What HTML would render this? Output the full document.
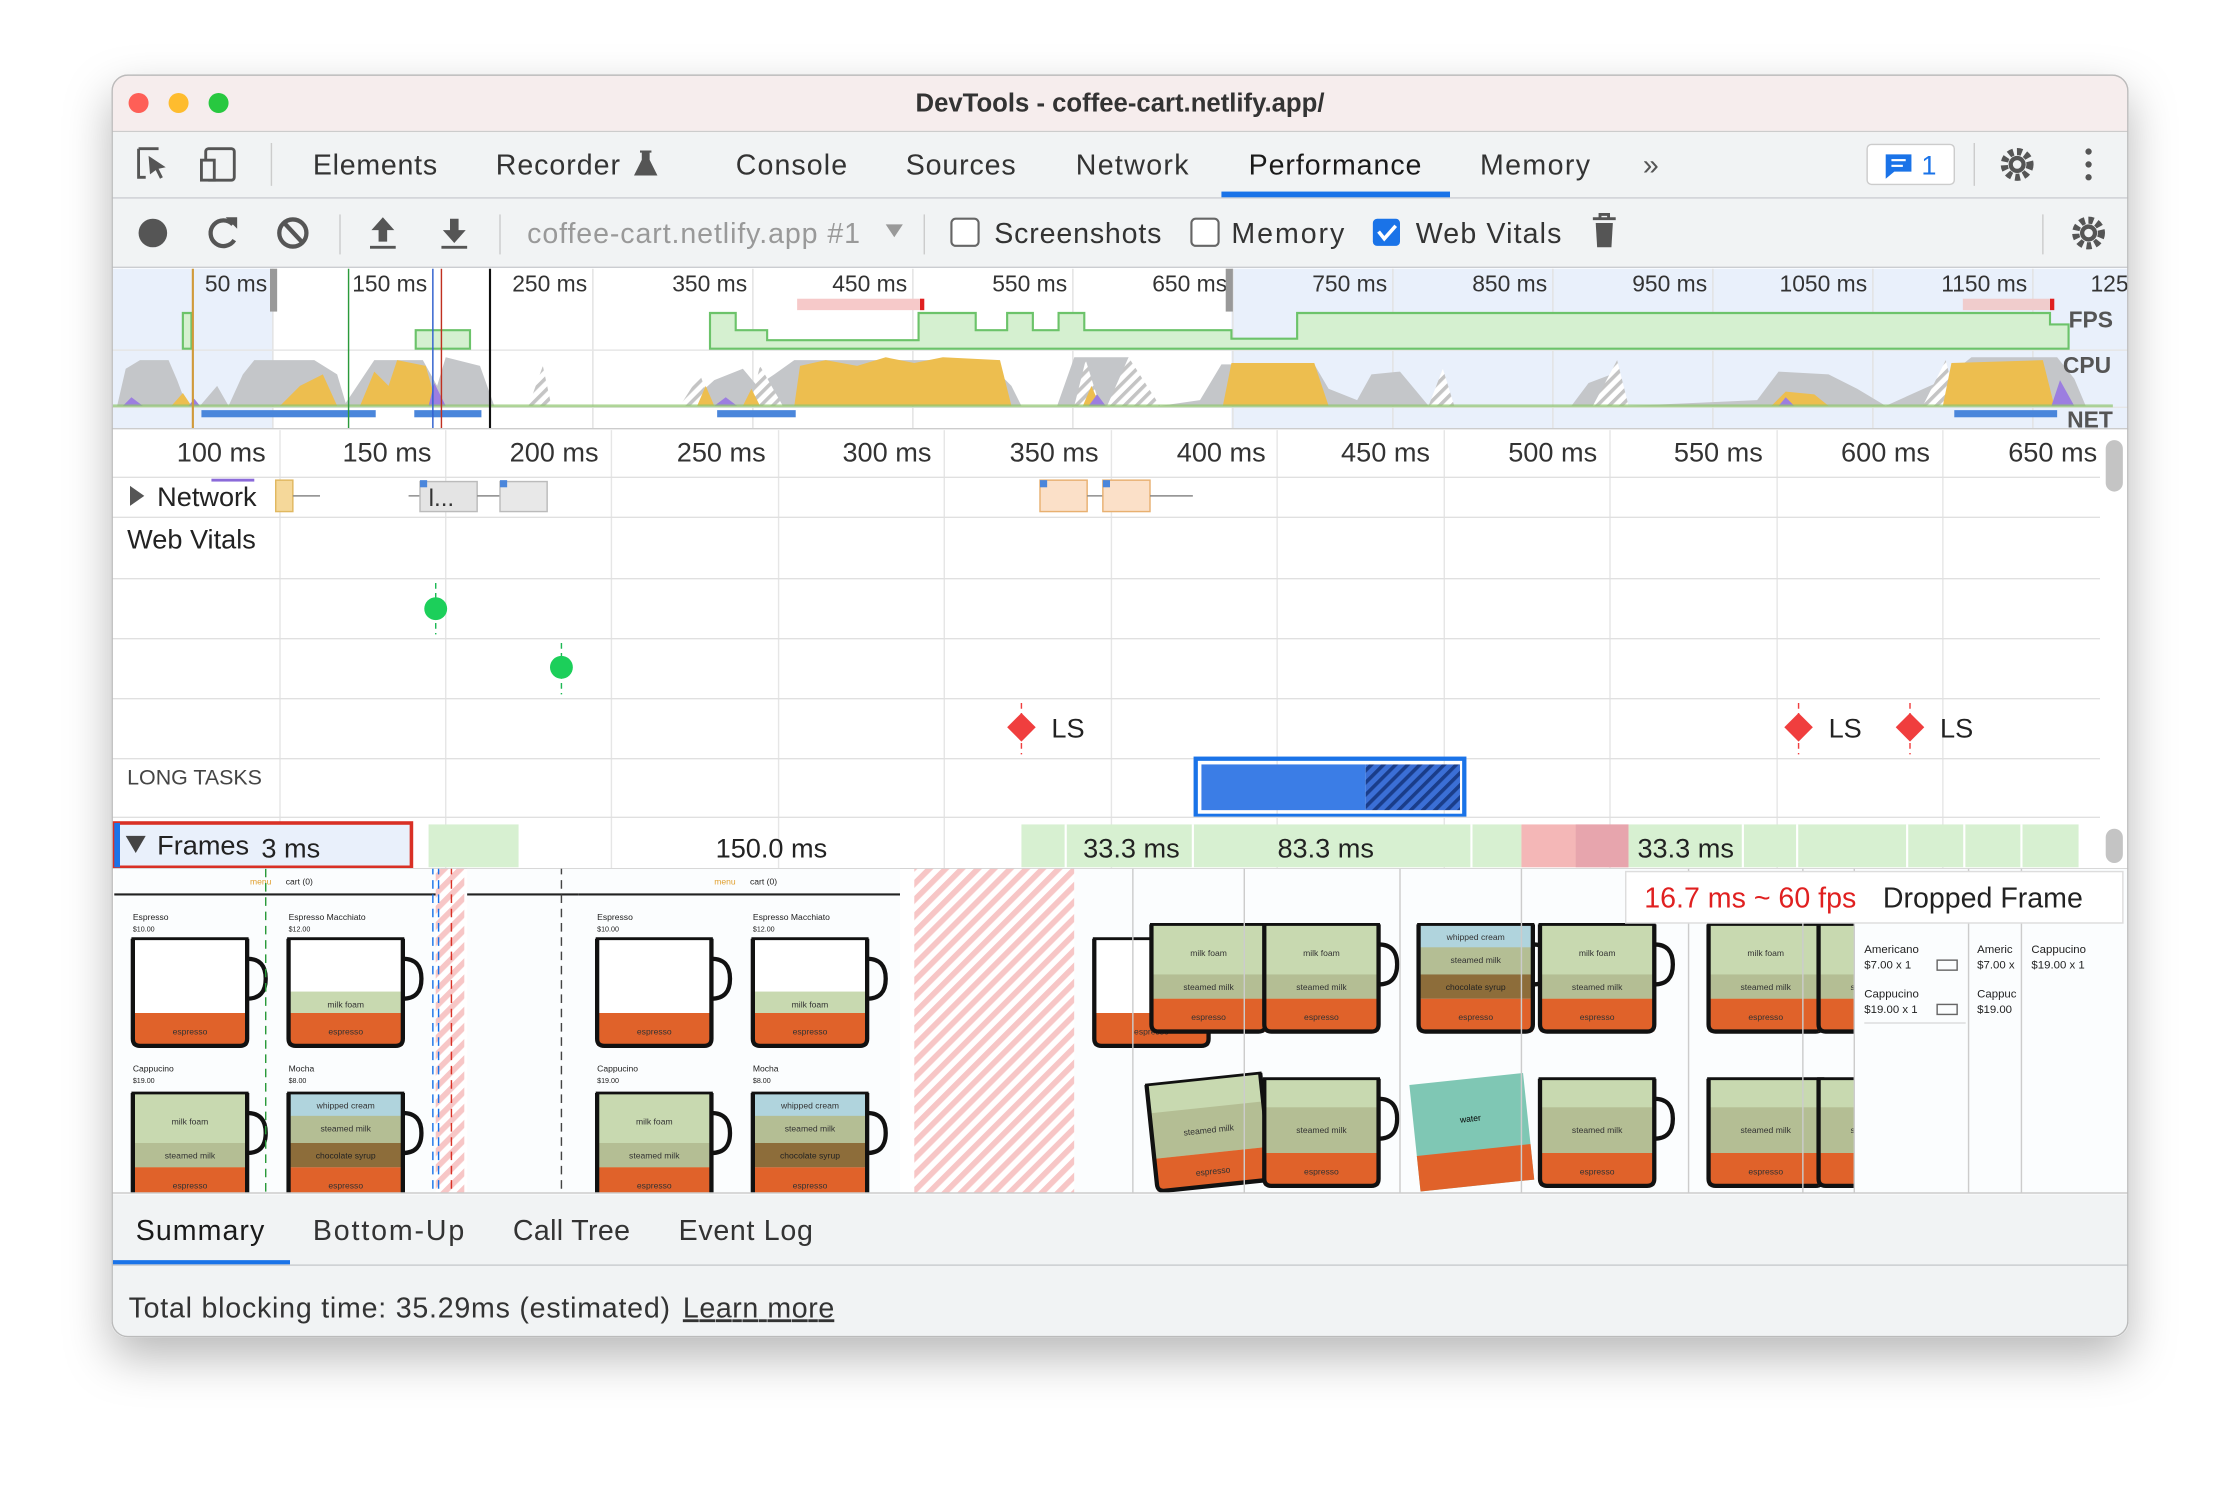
<!DOCTYPE html>
<html><head><meta charset="utf-8"><style>
html,body{margin:0;padding:0;background:#fff;width:2240px;height:1486px;overflow:hidden}
svg{display:block}
text{font-family:"Liberation Sans",sans-serif}
</style></head><body>
<svg width="2240" height="1486" viewBox="0 0 1568 1040" xmlns="http://www.w3.org/2000/svg">
<defs>
<filter id="sh" x="-10%" y="-10%" width="120%" height="130%"><feDropShadow dx="0" dy="14" stdDeviation="16" flood-color="#000" flood-opacity="0.28"/></filter>
<pattern id="hatchR" width="8" height="8" patternUnits="userSpaceOnUse" patternTransform="rotate(45)"><rect width="8" height="8" fill="#fff"/><rect width="4" height="8" fill="#f7c6c6"/></pattern>
<pattern id="hatchG" width="6" height="6" patternUnits="userSpaceOnUse" patternTransform="rotate(45)"><rect width="6" height="6" fill="#fff"/><rect width="2.5" height="6" fill="#c4c4c4"/></pattern>
<pattern id="hatchB" width="6" height="6" patternUnits="userSpaceOnUse" patternTransform="rotate(45)"><rect width="6" height="6" fill="#3b6fd6"/><rect width="2.5" height="6" fill="#1a3d8a"/></pattern>
<clipPath id="film"><rect x="79" y="608" width="1411" height="227"/></clipPath>
<clipPath id="win"><rect x="78" y="52" width="1412" height="884" rx="11"/></clipPath>
<g id="cupE"><rect x="0" y="0" width="80" height="75" rx="4" fill="#fff"/><rect x="0" y="52" width="80" height="23" fill="#e0622a"/><text x="40" y="67" font-size="6" text-anchor="middle" fill="#333">espresso</text><path d="M0 0 V70 Q0 75 5 75 H75 Q80 75 80 70 V0" fill="none" stroke="#111" stroke-width="3"/><path d="M80 14 Q93 14 93 28 Q93 42 80 42" fill="none" stroke="#111" stroke-width="3"/><line x1="-1" y1="0" x2="81" y2="0" stroke="#111" stroke-width="2"/></g>
<g id="cupM"><rect x="0" y="0" width="80" height="75" rx="4" fill="#fff"/><rect x="0" y="37" width="80" height="15" fill="#c8d9b0"/><text x="40" y="48" font-size="6" text-anchor="middle" fill="#333">milk foam</text><rect x="0" y="52" width="80" height="23" fill="#e0622a"/><text x="40" y="67" font-size="6" text-anchor="middle" fill="#333">espresso</text><path d="M0 0 V70 Q0 75 5 75 H75 Q80 75 80 70 V0" fill="none" stroke="#111" stroke-width="3"/><path d="M80 14 Q93 14 93 28 Q93 42 80 42" fill="none" stroke="#111" stroke-width="3"/><line x1="-1" y1="0" x2="81" y2="0" stroke="#111" stroke-width="2"/></g>
<g id="cupC"><rect x="0" y="0" width="80" height="75" rx="4" fill="#c8d9b0"/><text x="40" y="22" font-size="6" text-anchor="middle" fill="#333">milk foam</text><rect x="0" y="35" width="80" height="17" fill="#b4be94"/><text x="40" y="46" font-size="6" text-anchor="middle" fill="#333">steamed milk</text><rect x="0" y="52" width="80" height="23" fill="#e0622a"/><text x="40" y="67" font-size="6" text-anchor="middle" fill="#333">espresso</text><path d="M0 0 V70 Q0 75 5 75 H75 Q80 75 80 70 V0" fill="none" stroke="#111" stroke-width="3"/><path d="M80 14 Q93 14 93 28 Q93 42 80 42" fill="none" stroke="#111" stroke-width="3"/><line x1="-1" y1="0" x2="81" y2="0" stroke="#111" stroke-width="2"/></g>
<g id="cupMo"><rect x="0" y="0" width="80" height="75" rx="4" fill="#b0d4dd"/><text x="40" y="11" font-size="6" text-anchor="middle" fill="#333">whipped cream</text><rect x="0" y="16" width="80" height="19" fill="#b4be94"/><text x="40" y="27" font-size="6" text-anchor="middle" fill="#333">steamed milk</text><rect x="0" y="35" width="80" height="17" fill="#8d6d3a"/><text x="40" y="46" font-size="6" text-anchor="middle" fill="#222">chocolate syrup</text><rect x="0" y="52" width="80" height="23" fill="#e0622a"/><text x="40" y="67" font-size="6" text-anchor="middle" fill="#333">espresso</text><path d="M0 0 V70 Q0 75 5 75 H75 Q80 75 80 70 V0" fill="none" stroke="#111" stroke-width="3"/><path d="M80 14 Q93 14 93 28 Q93 42 80 42" fill="none" stroke="#111" stroke-width="3"/><line x1="-1" y1="0" x2="81" y2="0" stroke="#111" stroke-width="2"/></g>
<g id="cupF"><rect x="0" y="0" width="80" height="75" rx="4" fill="#c8d9b0"/><rect x="0" y="20" width="80" height="32" fill="#b4be94"/><text x="40" y="38" font-size="6" text-anchor="middle" fill="#333">steamed milk</text><rect x="0" y="52" width="80" height="23" fill="#e0622a"/><text x="40" y="67" font-size="6" text-anchor="middle" fill="#333">espresso</text><path d="M0 0 V70 Q0 75 5 75 H75 Q80 75 80 70 V0" fill="none" stroke="#111" stroke-width="3"/><path d="M80 14 Q93 14 93 28 Q93 42 80 42" fill="none" stroke="#111" stroke-width="3"/><line x1="-1" y1="0" x2="81" y2="0" stroke="#111" stroke-width="2"/></g>
<g id="panel">
<rect x="0" y="0" width="225" height="227" fill="#fbfdfe"/>
<text x="95" y="11" font-size="6" fill="#e0a030" font-family="Liberation Serif">menu</text>
<text x="120" y="11" font-size="6" fill="#222" font-family="Liberation Serif">cart (0)</text>
<line x1="0" y1="18" x2="225" y2="18" stroke="#222" stroke-width="1.5"/>
<text x="13" y="36" font-size="6" fill="#222" font-family="Liberation Serif">Espresso</text><text x="13" y="44" font-size="5" fill="#222">$10.00</text>
<text x="122" y="36" font-size="6" fill="#222" font-family="Liberation Serif">Espresso Macchiato</text><text x="122" y="44" font-size="5" fill="#222">$12.00</text>
<use href="#cupE" x="13" y="49"/><use href="#cupM" x="122" y="49"/>
<text x="13" y="142" font-size="6" fill="#222" font-family="Liberation Serif">Cappucino</text><text x="13" y="150" font-size="5" fill="#222">$19.00</text>
<text x="122" y="142" font-size="6" fill="#222" font-family="Liberation Serif">Mocha</text><text x="122" y="150" font-size="5" fill="#222">$8.00</text>
<use href="#cupC" x="13" y="157"/><use href="#cupMo" x="122" y="157"/>
</g>
</defs>

<rect x="78" y="52" width="1412" height="884" rx="11" fill="#fff" filter="url(#sh)"/>
<g clip-path="url(#win)">
<rect x="78" y="52" width="1412" height="40" fill="#f6eded"/>
<circle cx="97" cy="72" r="7" fill="#fe5f57"/><circle cx="125" cy="72" r="7" fill="#febc2e"/><circle cx="153" cy="72" r="7" fill="#28c840"/>
<text x="784" y="78" font-size="18" font-weight="bold" text-anchor="middle" fill="#333">DevTools - coffee-cart.netlify.app/</text>
<line x1="78" y1="92" x2="1490" y2="92" stroke="#ccc"/>
<rect x="78" y="93" width="1412" height="46" fill="#f1f3f4"/>
<line x1="78" y1="138.5" x2="1490" y2="138.5" stroke="#cbcdd1"/>
<path d="M97 104 h14 M97 104 v20 h5" stroke="#555" stroke-width="2" fill="none"/><path d="M104 109 l12 8 -5 1 3 6 -2 1 -3 -6 -4 3z" fill="#555"/>
<rect x="144" y="104" width="20" height="22" rx="2" fill="none" stroke="#555" stroke-width="2"/><rect x="141" y="112" width="9" height="14" fill="#f1f3f4" stroke="#555" stroke-width="2"/>
<line x1="190" y1="100" x2="190" y2="130" stroke="#ccc"/>
<g font-size="20" fill="#333"><text x="219" y="122" textLength="87">Elements</text><text x="347" y="122" textLength="87">Recorder</text><text x="515" y="122" textLength="78">Console</text><text x="634" y="122" textLength="77">Sources</text><text x="753" y="122" textLength="79">Network</text><text x="874" y="122" fill="#1a1a1a" textLength="121">Performance</text><text x="1036" y="122" textLength="77">Memory</text></g>
<path d="M448 106 h8 M450 106 v6 l-5 10 h14 l-5 -10 v-6" fill="#555" stroke="#555" stroke-width="1.5"/>
<text x="1150" y="122" font-size="20" fill="#555">»</text>
<rect x="855" y="134" width="160" height="4" fill="#1a73e8"/>
<rect x="1307" y="101" width="61" height="28" rx="3" fill="#fff" stroke="#ccc"/>
<path d="M1320 108 h18 v12 h-12 l-6 5z" fill="#1a73e8"/><line x1="1324" y1="112" x2="1334" y2="112" stroke="#fff" stroke-width="1.5"/><line x1="1324" y1="116" x2="1332" y2="116" stroke="#fff" stroke-width="1.5"/>
<text x="1345" y="122" font-size="19" fill="#1a73e8">1</text>
<line x1="1382" y1="100" x2="1382" y2="130" stroke="#ccc"/>
<circle cx="1412" cy="115" r="9" fill="none" stroke="#555" stroke-width="5" stroke-dasharray="3.5 2.5"/><circle cx="1412" cy="115" r="6" fill="#555"/><circle cx="1412" cy="115" r="3" fill="#f1f3f4"/>
<circle cx="1462" cy="106" r="2.2" fill="#555"/><circle cx="1462" cy="115" r="2.2" fill="#555"/><circle cx="1462" cy="124" r="2.2" fill="#555"/>
<rect x="78" y="139" width="1412" height="48" fill="#f1f3f4"/>
<line x1="78" y1="187" x2="1490" y2="187" stroke="#cbcdd1"/>
<circle cx="107" cy="163" r="10" fill="#555"/>
<path d="M163 157 A9 9 0 1 0 164 168" fill="none" stroke="#555" stroke-width="3"/><path d="M158 152 l8 0 0 8z" fill="#555"/>
<circle cx="205" cy="163" r="9.5" fill="none" stroke="#555" stroke-width="3"/><line x1="199" y1="156" x2="212" y2="170" stroke="#555" stroke-width="3"/>
<line x1="238" y1="150" x2="238" y2="178" stroke="#ccc"/>
<path d="M268 152 l-8 9 h5 v8 h6 v-8 h5z" fill="#555"/><rect x="259" y="172" width="18" height="2" fill="#555"/>
<path d="M318 170 l-8 -9 h5 v-8 h6 v8 h5z" fill="#555"/><rect x="309" y="172" width="18" height="2" fill="#555"/>
<line x1="350" y1="150" x2="350" y2="178" stroke="#ccc"/>
<text x="369" y="170" font-size="20" fill="#999" textLength="233">coffee-cart.netlify.app #1</text>
<path d="M620 157 h12 l-6 9z" fill="#999"/>
<line x1="647" y1="150" x2="647" y2="178" stroke="#ccc"/>
<rect x="666" y="153" width="19" height="19" rx="3" fill="#fff" stroke="#666" stroke-width="1.5"/><text x="696" y="170" font-size="20" fill="#333" textLength="117">Screenshots</text>
<rect x="834" y="153" width="19" height="19" rx="3" fill="#fff" stroke="#666" stroke-width="1.5"/><text x="862" y="170" font-size="20" fill="#333" textLength="79">Memory</text>
<rect x="961" y="153" width="19" height="19" rx="3" fill="#1a73e8"/><path d="M965 162 l4 5 8 -9" fill="none" stroke="#fff" stroke-width="2.5"/><text x="991" y="170" font-size="20" fill="#333" textLength="102">Web Vitals</text>
<path d="M1115 153 h16 M1120 153 v-3 h6 v3" stroke="#555" stroke-width="2" fill="none"/><path d="M1117 156 h12 l-1 17 h-10z" fill="#555"/>
<line x1="1430" y1="150" x2="1430" y2="178" stroke="#ccc"/>
<circle cx="1462" cy="163" r="9" fill="none" stroke="#555" stroke-width="5" stroke-dasharray="3.5 2.5"/><circle cx="1462" cy="163" r="6" fill="#555"/><circle cx="1462" cy="163" r="3" fill="#f1f3f4"/>

<rect x="78" y="188" width="1412" height="112" fill="#fff"/>
<rect x="79" y="188" width="112" height="112" fill="#e9f0fb"/>
<rect x="862" y="188" width="628" height="112" fill="#e9f0fb"/>
<g stroke="#e2e2e2"><line x1="191" y1="188" x2="191" y2="300"/><line x1="303" y1="188" x2="303" y2="300"/><line x1="415" y1="188" x2="415" y2="300"/><line x1="527" y1="188" x2="527" y2="300"/><line x1="639" y1="188" x2="639" y2="300"/><line x1="751" y1="188" x2="751" y2="300"/><line x1="863" y1="188" x2="863" y2="300"/><line x1="975" y1="188" x2="975" y2="300"/><line x1="1087" y1="188" x2="1087" y2="300"/><line x1="1199" y1="188" x2="1199" y2="300"/><line x1="1311" y1="188" x2="1311" y2="300"/><line x1="1423" y1="188" x2="1423" y2="300"/></g>
<g font-size="16" fill="#333" text-anchor="end"><text x="187" y="204">50 ms</text><text x="299" y="204">150 ms</text><text x="411" y="204">250 ms</text><text x="523" y="204">350 ms</text><text x="635" y="204">450 ms</text><text x="747" y="204">550 ms</text><text x="859" y="204">650 ms</text><text x="971" y="204">750 ms</text><text x="1083" y="204">850 ms</text><text x="1195" y="204">950 ms</text><text x="1307" y="204">1050 ms</text><text x="1419" y="204">1150 ms</text><text x="1490" y="204">125</text></g>
<line x1="78" y1="245" x2="1490" y2="245" stroke="#e6e6e6"/><line x1="78" y1="285" x2="1490" y2="285" stroke="#e6e6e6"/>
<path d="M128 244 V219 H134 V244 Z M291 244 V231 H329 V244 Z M497 244 V219 H515 V231 H537 V238 H643 V219 H683 V231 H705 V219 H723 V231 H741 V219 H759 V231 H862 V231 H862 V237 H908 V219 H1435 V227 H1448 V244 Z" fill="#d5f0d0" stroke="#6cc36a" stroke-width="1.5"/>
<rect x="558" y="209" width="88" height="8" fill="#f6c9c9"/><rect x="644" y="209" width="3" height="8" fill="#e02020"/>
<rect x="1374" y="209" width="62" height="8" fill="#f0cccc"/><rect x="1435" y="209" width="3" height="8" fill="#e02020"/>
<path d="M82 284 L88 258 L98 252 L118 252 L124 266 L130 282 L140 284 L152 270 L160 284 L170 262 L178 252 L220 252 L236 262 L242 282 L262 252 L296 252 L306 270 L312 250 L336 256 L346 284 L480 284 L500 266 L520 258 L530 270 L542 262 L556 252 L690 252 L708 270 L715 284 L740 284 L752 250 L790 250 L800 270 L812 284 L840 280 L855 255 L920 255 L930 272 L950 280 L960 262 L980 260 L1000 284 L1100 284 L1112 268 L1128 262 L1136 270 L1140 284 L1230 280 L1245 260 L1280 262 L1300 272 L1320 284 L1360 266 L1380 250 L1440 250 L1452 265 L1460 284 Z" fill="#c4c6c9"/>
<path d="M370 284 L380 256 L386 284 Z M476 284 L490 262 L498 284 Z M525 284 L532 256 L548 284 Z M752 284 L760 252 L770 284Z M775 284 L790 250 L812 284 Z M1000 284 L1010 258 L1018 284Z M1115 284 L1132 252 L1140 284 Z M1346 284 L1362 252 L1370 284Z" fill="url(#hatchG)"/>
<path d="M120 284 L128 275 L134 284 Z M196 284 L210 270 L226 262 L236 284 Z M252 284 L262 260 L272 270 L278 252 L298 256 L306 284 Z M488 284 L494 270 L500 284 Z M520 284 L526 272 L532 284Z M556 284 L560 256 L578 252 L600 256 L620 250 L640 254 L660 250 L700 252 L708 284 Z M758 284 L764 270 L770 284Z M856 284 L862 254 L920 254 L930 284 Z M1240 284 L1250 274 L1270 276 L1280 284 Z M1360 284 L1366 254 L1430 252 L1438 284Z" fill="#edbe4f"/>
<path d="M86 284 L92 278 L100 284Z M132 284 L136 279 L140 284Z M300 284 L304 268 L312 284Z M500 284 L508 278 L516 284Z M762 284 L768 276 L774 284Z M1436 284 L1442 266 L1452 284Z M1245 284 L1250 278 L1256 284Z" fill="#9c7ee0"/>
<rect x="79" y="283" width="1400" height="2" fill="#8fc46d" opacity="0.7"/>
<rect x="141" y="287" width="122" height="5" fill="#4a86db"/><rect x="290" y="287" width="47" height="5" fill="#4a86db"/><rect x="502" y="287" width="55" height="5" fill="#4a86db"/><rect x="1368" y="287" width="72" height="5" fill="#4a86db"/>
<g font-size="16" font-weight="bold" fill="#555"><text x="1448" y="229">FPS</text><text x="1444" y="261">CPU</text><text x="1447" y="299">NET</text></g>
<line x1="135" y1="188" x2="135" y2="300" stroke="#d09a3a" stroke-width="1.5"/>
<rect x="189" y="188" width="5" height="30" fill="#999"/>
<line x1="244" y1="188" x2="244" y2="300" stroke="#2a9a3a"/>
<line x1="303" y1="188" x2="303" y2="300" stroke="#3060d0"/><line x1="309" y1="188" x2="309" y2="300" stroke="#c03020"/>
<line x1="343" y1="188" x2="343" y2="300" stroke="#111" stroke-width="1.5"/>
<rect x="858" y="188" width="5" height="30" fill="#999"/>
<line x1="78" y1="300" x2="1490" y2="300" stroke="#ccc"/>

<rect x="78" y="301" width="1412" height="534" fill="#fff"/>
<g stroke="#e6e6e6"><line x1="196" y1="301" x2="196" y2="608"/><line x1="312" y1="301" x2="312" y2="608"/><line x1="428" y1="301" x2="428" y2="608"/><line x1="545" y1="301" x2="545" y2="608"/><line x1="661" y1="301" x2="661" y2="608"/><line x1="778" y1="301" x2="778" y2="608"/><line x1="894" y1="301" x2="894" y2="608"/><line x1="1011" y1="301" x2="1011" y2="608"/><line x1="1127" y1="301" x2="1127" y2="608"/><line x1="1244" y1="301" x2="1244" y2="608"/><line x1="1360" y1="301" x2="1360" y2="608"/></g>
<g font-size="19" fill="#333" text-anchor="end"><text x="186" y="323">100 ms</text><text x="302" y="323">150 ms</text><text x="419" y="323">200 ms</text><text x="536" y="323">250 ms</text><text x="652" y="323">300 ms</text><text x="769" y="323">350 ms</text><text x="886" y="323">400 ms</text><text x="1001" y="323">450 ms</text><text x="1118" y="323">500 ms</text><text x="1234" y="323">550 ms</text><text x="1351" y="323">600 ms</text><text x="1468" y="323">650 ms</text></g>
<rect x="1474" y="308" width="12" height="36" rx="6" fill="#c4c4c4"/>
<line x1="78" y1="334" x2="1470" y2="334" stroke="#e0e0e0"/>
<path d="M91 340 l10 7 -10 7z" fill="#555"/>
<text x="110" y="354" font-size="19" fill="#222">Network</text>
<rect x="148" y="335" width="30" height="2" fill="#8b6ad9"/>
<rect x="193" y="336" width="12" height="22" fill="#f5d89a" stroke="#e0b860"/><line x1="205" y1="347" x2="224" y2="347" stroke="#888"/>
<line x1="286" y1="347" x2="294" y2="347" stroke="#888"/><rect x="294" y="337" width="40" height="21" fill="#e4e4e4" stroke="#bbb"/><text x="300" y="354" font-size="17" fill="#333">l...</text><rect x="294" y="336" width="5" height="5" fill="#4a86db"/>
<line x1="334" y1="347" x2="350" y2="347" stroke="#888"/><rect x="350" y="337" width="33" height="21" fill="#e8e8e8" stroke="#bbb"/><rect x="350" y="336" width="5" height="5" fill="#4a86db"/>
<rect x="728" y="336" width="33" height="22" fill="#fbe0c8" stroke="#e8b070"/><rect x="728" y="336" width="5" height="5" fill="#4a86db"/><line x1="761" y1="347" x2="772" y2="347" stroke="#888"/>
<rect x="772" y="336" width="33" height="22" fill="#fbe0c8" stroke="#e8b070"/><rect x="772" y="336" width="5" height="5" fill="#4a86db"/><line x1="805" y1="347" x2="835" y2="347" stroke="#888"/>
<line x1="78" y1="362" x2="1470" y2="362" stroke="#e0e0e0"/>
<text x="89" y="384" font-size="19" fill="#222">Web Vitals</text>
<line x1="78" y1="405" x2="1470" y2="405" stroke="#e0e0e0"/><line x1="78" y1="447" x2="1470" y2="447" stroke="#e0e0e0"/><line x1="78" y1="489" x2="1470" y2="489" stroke="#e0e0e0"/><line x1="78" y1="531" x2="1470" y2="531" stroke="#e0e0e0"/>
<line x1="305" y1="408" x2="305" y2="444" stroke="#1db954" stroke-dasharray="4 3"/><circle cx="305" cy="426" r="8" fill="#1ccf5a"/>
<line x1="393" y1="450" x2="393" y2="486" stroke="#1db954" stroke-dasharray="4 3"/><circle cx="393" cy="467" r="8" fill="#1ccf5a"/>
<g fill="#f03e3e"><line x1="715" y1="492" x2="715" y2="528" stroke="#f03e3e" stroke-dasharray="4 3"/><path d="M715 499 l10 10 -10 10 -10 -10z"/><line x1="1259" y1="492" x2="1259" y2="528" stroke="#f03e3e" stroke-dasharray="4 3"/><path d="M1259 499 l10 10 -10 10 -10 -10z"/><line x1="1337" y1="492" x2="1337" y2="528" stroke="#f03e3e" stroke-dasharray="4 3"/><path d="M1337 499 l10 10 -10 10 -10 -10z"/></g>
<g font-size="19" fill="#222"><text x="736" y="516">LS</text><text x="1280" y="516">LS</text><text x="1358" y="516">LS</text></g>
<text x="89" y="549" font-size="15" fill="#444">LONG TASKS</text>
<rect x="837" y="531" width="188" height="40" fill="none" stroke="#1a73e8" stroke-width="3"/>
<rect x="841" y="535" width="115" height="32" fill="#3b7de6"/><rect x="956" y="535" width="66" height="32" fill="url(#hatchB)"/>
<line x1="78" y1="572" x2="1470" y2="572" stroke="#e0e0e0"/>
<rect x="300" y="577" width="63" height="30" fill="#d7f0d1"/>
<rect x="715" y="577" width="350" height="30" fill="#d7f0d1"/>
<rect x="1065" y="577" width="75" height="30" fill="#f4b7b7"/><rect x="1103" y="577" width="37" height="30" fill="#e7a5ad"/>
<rect x="1140" y="577" width="315" height="30" fill="#d7f0d1"/>
<g stroke="#fff" stroke-width="1.5"><line x1="746" y1="577" x2="746" y2="607"/><line x1="835" y1="577" x2="835" y2="607"/><line x1="1030" y1="577" x2="1030" y2="607"/><line x1="1220" y1="577" x2="1220" y2="607"/><line x1="1258" y1="577" x2="1258" y2="607"/><line x1="1335" y1="577" x2="1335" y2="607"/><line x1="1375" y1="577" x2="1375" y2="607"/><line x1="1415" y1="577" x2="1415" y2="607"/></g>
<g font-size="19" fill="#222" text-anchor="middle"><text x="540" y="600">150.0 ms</text><text x="792" y="600">33.3 ms</text><text x="928" y="600">83.3 ms</text><text x="1180" y="600">33.3 ms</text></g>
<rect x="80" y="576" width="208" height="31" fill="#e9f0fb" stroke="#d93025" stroke-width="2.5"/>
<rect x="80" y="576" width="4" height="31" fill="#1a73e8"/>
<path d="M88 585 l14 0 -7 12z" fill="#444"/>
<text x="110" y="598" font-size="19" fill="#222">Frames</text><text x="183" y="600" font-size="19" fill="#222">3 ms</text>
<rect x="1474" y="580" width="12" height="24" rx="6" fill="#c4c4c4"/>
<line x1="78" y1="608" x2="1490" y2="608" stroke="#ccc"/>
<g clip-path="url(#film)">
<rect x="79" y="608" width="1411" height="227" fill="#fff"/>
<use href="#panel" x="80" y="608"/>
<rect x="305" y="608" width="20" height="227" fill="url(#hatchR)"/>
<use href="#panel" x="405" y="608"/><rect x="327" y="608" width="78" height="227" fill="#fbfdfe"/><line x1="327" y1="626" x2="405" y2="626" stroke="#222" stroke-width="1.5"/>
<rect x="640" y="608" width="112" height="227" fill="url(#hatchR)"/>
<rect x="752" y="608" width="546" height="227" fill="#fbfdfe"/>
<use href="#cupE" x="766" y="657"/><use href="#cupC" x="806" y="647"/><use href="#cupC" x="885" y="647"/><use href="#cupMo" x="993" y="647"/><use href="#cupC" x="1078" y="647"/><use href="#cupC" x="1196" y="647"/><use href="#cupC" x="1273" y="647"/>
<g transform="rotate(-6 846 790)"><use href="#cupF" x="806" y="755"/></g><use href="#cupF" x="885" y="755"/>
<g transform="rotate(-6 1030 790)"><rect x="990" y="755" width="80" height="75" fill="#7fc7b4"/><text x="1030" y="785" font-size="6" text-anchor="middle">water</text><rect x="990" y="805" width="80" height="25" fill="#e0622a"/></g>
<use href="#cupF" x="1078" y="755"/><use href="#cupF" x="1196" y="755"/><use href="#cupF" x="1273" y="755"/>
<rect x="1298" y="608" width="192" height="227" fill="#fbfdfe"/>
<g stroke="#ccc"><line x1="793" y1="608" x2="793" y2="835"/><line x1="871" y1="608" x2="871" y2="835"/><line x1="980" y1="608" x2="980" y2="835"/><line x1="1065" y1="608" x2="1065" y2="835"/><line x1="1182" y1="608" x2="1182" y2="835"/><line x1="1262" y1="608" x2="1262" y2="835"/><line x1="1298" y1="608" x2="1298" y2="835"/><line x1="1378" y1="608" x2="1378" y2="835"/><line x1="1415" y1="608" x2="1415" y2="835"/></g>
<g font-size="8" fill="#222" font-family="Liberation Serif"><text x="1305" y="667">Americano</text><text x="1305" y="678">$7.00 x 1</text><text x="1305" y="698">Cappucino</text><text x="1305" y="709">$19.00 x 1</text><text x="1384" y="667">Americ</text><text x="1384" y="678">$7.00 x</text><text x="1384" y="698">Cappuc</text><text x="1384" y="709">$19.00</text><text x="1422" y="667">Cappucino</text><text x="1422" y="678">$19.00 x 1</text></g>
<g fill="none" stroke="#666"><rect x="1356" y="672" width="14" height="7"/><rect x="1356" y="703" width="14" height="7"/></g>
<line x1="1305" y1="716" x2="1376" y2="716" stroke="#ddd"/>
<g stroke="#2a9a3a" stroke-dasharray="6 4"><line x1="186" y1="608" x2="186" y2="835"/><line x1="303" y1="576" x2="303" y2="835" stroke="#1a73e8"/><line x1="307" y1="576" x2="307" y2="835" stroke="#1a73e8"/><line x1="316" y1="576" x2="316" y2="835" stroke="#d93025"/><line x1="393" y1="576" x2="393" y2="835" stroke="#444"/></g>
</g>
<rect x="1138" y="610" width="348" height="36" fill="#fff" stroke="#ddd"/>
<text x="1151" y="635" font-size="20" fill="#e02020">16.7 ms ~ 60 fps</text><text x="1318" y="635" font-size="20" fill="#222">Dropped Frame</text>
<line x1="78" y1="835" x2="1490" y2="835" stroke="#ccc"/>
<rect x="78" y="836" width="1412" height="100" fill="#f1f3f4"/>
<g font-size="20" fill="#333"><text x="95" y="868" fill="#1a1a1a" textLength="90">Summary</text><text x="219" y="868" textLength="106">Bottom-Up</text><text x="359" y="868" textLength="82">Call Tree</text><text x="475" y="868" textLength="94">Event Log</text></g>
<rect x="79" y="882" width="124" height="3" fill="#1a73e8"/>
<line x1="78" y1="885.5" x2="1490" y2="885.5" stroke="#cbcdd1"/>
<text x="90" y="922" font-size="20" fill="#333" textLength="379">Total blocking time: 35.29ms (estimated)</text>
<text x="478" y="922" font-size="20" fill="#333" text-decoration="underline" textLength="106">Learn more</text>
</g>
<rect x="78.5" y="52.5" width="1411" height="883" rx="11" fill="none" stroke="#bbb"/>
</svg>
</body></html>
